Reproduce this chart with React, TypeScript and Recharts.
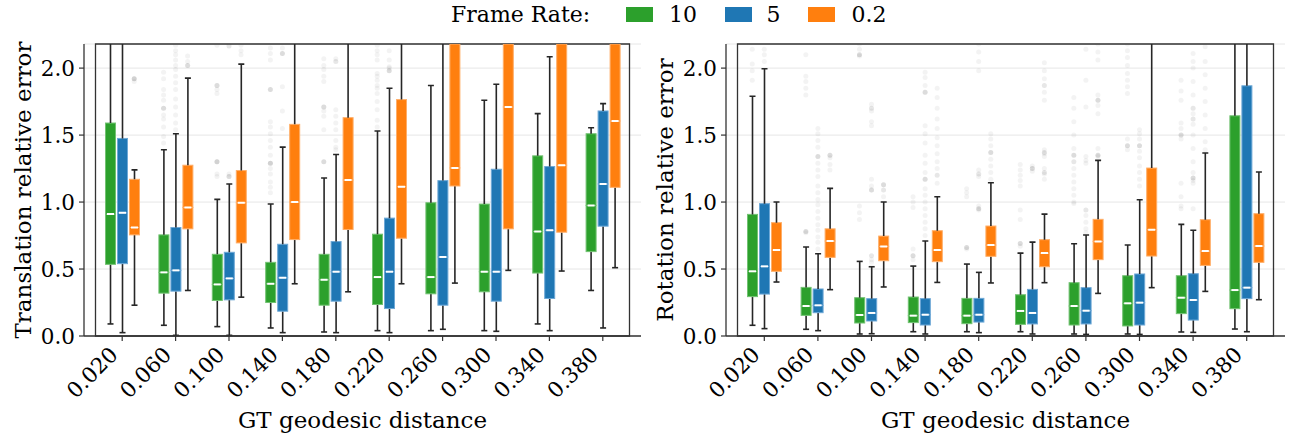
import React from "react";
import { ComposedChart, Bar, Scatter, XAxis, YAxis, CartesianGrid, ReferenceArea } from "recharts";

const categories = ["0.020", "0.060", "0.100", "0.140", "0.180", "0.220", "0.260", "0.300", "0.340", "0.380"];
const yTicks = [0, 0.5, 1.0, 1.5, 2.0];
const Y_MAX = 2.18;
const seriesLabels = ["10", "5", "0.2"];
const seriesColors = ["#2ca02c", "#1f77b4", "#ff7f0e"];
const seriesEdges = ["#72c272", "#6ea8d6", "#ffae68"];

// box stats: [lower whisker, Q1, median, Q3, upper whisker]
const trans10 = [
  [0.09, 0.535, 0.91, 1.59, 2.9],
  [0.08, 0.32, 0.475, 0.755, 1.39],
  [0.07, 0.265, 0.385, 0.61, 1.02],
  [0.06, 0.25, 0.39, 0.55, 0.985],
  [0.03, 0.23, 0.42, 0.61, 1.18],
  [0.04, 0.235, 0.44, 0.76, 1.53],
  [0.04, 0.315, 0.44, 0.995, 1.87],
  [0.04, 0.33, 0.48, 0.985, 1.76],
  [0.09, 0.47, 0.78, 1.345, 1.66],
  [0.34, 0.63, 0.975, 1.51, 1.555],
];
const trans5 = [
  [0.025, 0.54, 0.92, 1.475, 3.0],
  [0.005, 0.335, 0.49, 0.81, 1.51],
  [0.005, 0.27, 0.43, 0.625, 1.135],
  [0.025, 0.185, 0.435, 0.685, 1.41],
  [0.025, 0.26, 0.48, 0.705, 1.355],
  [0.025, 0.205, 0.48, 0.88, 1.85],
  [0.05, 0.23, 0.59, 1.16, 2.6],
  [0.035, 0.26, 0.48, 1.245, 1.88],
  [0.04, 0.28, 0.79, 1.265, 2.085],
  [0.06, 0.82, 1.135, 1.68, 1.735],
];
const trans02 = [
  [0.23, 0.755, 0.81, 1.17, 1.24],
  [0.34, 0.8, 0.96, 1.275, 1.925],
  [0.29, 0.695, 0.995, 1.235, 2.03],
  [0.39, 0.72, 1.0, 1.58, 2.5],
  [0.33, 0.795, 1.165, 1.63, 2.6],
  [0.39, 0.73, 1.115, 1.765, 2.7],
  [0.395, 1.12, 1.255, 2.5, 3.6],
  [0.49, 0.8, 1.71, 2.6, 3.8],
  [0.485, 0.775, 1.275, 2.4, 3.5],
  [0.51, 1.11, 1.605, 2.45, 3.6],
];

const rot10 = [
  [0.08, 0.294, 0.483, 0.908, 1.79],
  [0.05, 0.154, 0.224, 0.363, 0.664],
  [0.015, 0.097, 0.157, 0.286, 0.557],
  [0.032, 0.1, 0.152, 0.291, 0.522],
  [0.032, 0.092, 0.152, 0.281, 0.537],
  [0.032, 0.087, 0.187, 0.308, 0.619],
  [0.015, 0.082, 0.224, 0.398, 0.689],
  [0.015, 0.075, 0.244, 0.45, 0.679],
  [0.03, 0.167, 0.286, 0.45, 0.833],
  [0.052, 0.204, 0.343, 1.644, 3.0],
];
const rot5 = [
  [0.055, 0.313, 0.52, 0.988, 1.995],
  [0.04, 0.174, 0.229, 0.351, 0.614],
  [0.017, 0.112, 0.172, 0.279, 0.517],
  [0.015, 0.082, 0.159, 0.279, 0.709],
  [0.025, 0.104, 0.159, 0.281, 0.475],
  [0.015, 0.09, 0.172, 0.348, 0.701],
  [0.012, 0.09, 0.189, 0.361, 0.754],
  [0.012, 0.082, 0.249, 0.463, 1.017],
  [0.027, 0.119, 0.269, 0.465, 0.789],
  [0.032, 0.279, 0.361, 1.868, 3.2],
];
const rot02 = [
  [0.403, 0.483, 0.642, 0.846, 1.0],
  [0.346, 0.587, 0.709, 0.8, 1.102],
  [0.366, 0.562, 0.669, 0.746, 1.0],
  [0.4, 0.555, 0.642, 0.786, 1.04],
  [0.396, 0.595, 0.679, 0.821, 1.144],
  [0.398, 0.517, 0.619, 0.719, 0.91],
  [0.318, 0.57, 0.706, 0.871, 1.311],
  [0.361, 0.597, 0.794, 1.254, 2.6],
  [0.333, 0.527, 0.634, 0.868, 1.366],
  [0.271, 0.55, 0.672, 0.913, 1.224],
];

// outliers (fliers) per category
const transOut10 = [
  [],
  [1.44, 1.49, 1.56, 1.62, 1.65, 1.7, 1.7, 1.7, 1.76, 1.8, 1.84, 1.92, 1.97],
  [1.19, 1.21, 1.3, 1.3, 1.3, 1.3, 1.81, 1.84, 1.87, 1.87, 1.87, 2.17],
  [1.07, 1.11, 1.15, 1.21, 1.25, 1.29, 1.29, 1.29, 1.29, 1.35, 1.41, 1.46, 1.51, 1.56, 1.6, 1.84, 1.84, 1.84, 2.06, 2.11, 2.15],
  [1.3, 1.3, 1.3, 1.54, 1.64, 1.68, 1.71, 1.71, 1.71, 1.9, 1.94, 1.99, 2.02, 2.07],
  [1.56, 1.61, 1.69, 1.75, 1.81, 1.85, 1.87, 1.91, 1.94, 1.96, 2.06, 2.1, 2.13, 2.17],
  [], [], [], [],
];
const transOut5 = [
  [],
  [1.54, 1.59, 1.65, 1.71, 1.77, 1.84, 1.89, 1.94, 1.99, 2.02, 2.06, 2.1, 2.13, 2.17],
  [1.19, 1.19, 1.19, 1.21, 2.165, 2.165],
  [1.55, 1.68, 1.86, 2.11, 2.11, 2.11, 2.15],
  [1.39, 1.41, 1.46, 1.54, 1.59, 1.64, 1.69, 2.05, 2.05, 2.07],
  [1.98, 1.98, 1.98, 2.0, 2.01, 2.06, 2.13],
  [], [], [], [],
];
const transOut02 = [
  [1.9, 1.92, 1.92, 1.92, 1.92],
  [2.02, 2.02, 2.02, 2.05, 2.09],
  [2.1, 2.13, 2.17],
  [], [], [], [], [], [], [],
];
const rotOut10 = [
  [1.91, 1.98, 2.03, 2.14],
  [0.77, 0.78, 0.78, 0.78, 1.8, 1.85, 1.9, 1.94, 2.1],
  [0.87, 0.92, 0.97, 2.09, 2.1, 2.1, 2.1, 2.14, 2.18],
  [0.57, 0.6, 0.6, 0.6, 0.65, 0.96, 1.0, 1.04],
  [0.65, 0.66, 0.66, 0.66, 1.04, 1.07, 1.1],
  [0.67, 0.69, 0.69, 0.69, 0.87, 0.94, 1.12, 1.16, 1.2, 1.24, 1.28],
  [0.99, 1.0, 1.05, 1.1, 1.15, 1.2, 1.25, 1.3, 1.3, 1.35, 1.35, 1.35, 1.4, 1.5, 1.6, 1.7, 1.78],
  [1.39, 1.42, 1.42, 1.42, 1.47, 1.81, 1.86, 1.91, 1.96, 2.02, 2.08, 2.13, 2.18],
  [0.95, 0.97, 1.04, 1.14, 1.47, 1.5, 1.5, 1.5, 1.55, 1.59, 1.76, 1.83, 1.91],
  [],
];
const rotOut5 = [
  [2.05, 2.1, 2.14],
  [0.65, 0.7, 0.74, 0.79, 0.83, 0.88, 0.93, 0.98, 1.02, 1.07, 1.12, 1.19, 1.24, 1.29, 1.34, 1.34, 1.34, 1.41, 1.46, 1.51, 1.55],
  [0.55, 0.57, 0.6, 0.6, 1.09, 1.09, 1.09, 1.12, 1.17, 1.57, 1.6, 1.68, 1.7, 1.7, 1.73],
  [0.75, 0.8, 0.85, 0.9, 0.95, 1.0, 1.05, 1.1, 1.17, 1.17, 1.17, 1.22, 1.29, 1.35, 1.44, 1.51, 1.57, 1.82, 1.82, 1.82, 1.87, 1.93, 1.97],
  [0.94, 0.95, 0.95, 0.95, 0.97, 1.19, 1.21, 1.21, 1.24, 1.98, 2.05, 2.12, 2.18],
  [1.23, 1.25, 1.25, 1.25, 1.27],
  [0.77, 0.8, 0.85, 0.9, 0.94, 0.94, 1.29, 1.31, 1.34, 1.71, 1.91, 2.14],
  [1.12, 1.17, 1.22, 1.27, 1.33, 1.38, 1.42, 1.42, 1.42, 1.47, 1.51, 1.54],
  [0.95, 1.14, 1.16, 1.18, 1.18, 1.18, 1.22, 1.3, 1.4, 1.5, 1.58, 1.62, 1.62, 1.66, 1.7, 1.7, 1.8, 1.9, 2.0, 2.05, 2.11],
  [],
];
const rotOut02 = [
  [],
  [1.24, 1.28, 1.33, 1.35, 1.35, 1.35],
  [1.04, 1.09, 1.09, 1.13, 1.13, 1.13],
  [1.14, 1.2, 1.2, 1.25, 1.3, 1.36, 1.42, 1.48, 1.55, 1.62, 1.7, 1.78, 1.85],
  [1.17, 1.22, 1.27, 1.32, 1.37, 1.37, 1.37, 1.42, 1.47, 1.51],
  [1.17, 1.21, 1.22, 1.22, 1.25, 1.34, 1.36, 1.37, 1.37, 1.39, 1.76, 1.82, 1.87, 1.87, 1.92, 1.98, 2.04],
  [1.34, 1.35, 1.35, 1.35, 1.4, 1.66, 1.72, 1.76, 1.76, 1.76, 1.8, 2.06, 2.12, 2.18],
  [],
  [1.39, 1.45, 1.55, 1.65, 1.75, 1.85, 1.95, 2.05, 2.16],
  [],
];

const FONT = "DejaVu Serif";
const SPINE = "#333333";
const WHISKER = "#262626";
const BAR_SIZE = 10;
const BAR_GAP = 2;
const SERIES_OFFSET = [-0.225, 0, 0.225];
const KEYS = ["s0", "s1", "s2"];

function buildRows(stats: number[][][]) {
  return categories.map((cat, i) => {
    const row: any = { cat };
    stats.forEach((arr, s) => {
      const [lo, q1, med, q3, hi] = arr[i];
      const k = KEYS[s];
      row[k + "_base"] = lo;
      row[k + "_lw"] = q1 - lo;
      row[k + "_b1"] = med - q1;
      row[k + "_b2"] = q3 - med;
      row[k + "_uw"] = hi - q3;
      row[k + "_hi"] = hi;
    });
    return row;
  });
}

function buildOutliers(outs: number[][][]) {
  const pts: { x: number; y: number }[] = [];
  outs.forEach((lists, s) => {
    lists.forEach((vals, i) => {
      vals.forEach((v) => pts.push({ x: i + SERIES_OFFSET[s], y: v }));
    });
  });
  return pts;
}

const Empty = () => <g />;

const LowerWhisker = (p: any) => {
  const cx = p.x + p.width / 2;
  const yb = p.y + p.height;
  return (
    <g>
      <line x1={cx} x2={cx} y1={p.y} y2={yb} stroke={WHISKER} strokeWidth={1.6} />
      <line x1={cx - 3} x2={cx + 3} y1={yb} y2={yb} stroke={WHISKER} strokeWidth={1.6} />
    </g>
  );
};

const makeUpperWhisker = (k: string) => (p: any) => {
  const cx = p.x + p.width / 2;
  const hi = p.payload[k + "_hi"];
  return (
    <g>
      <line x1={cx} x2={cx} y1={p.y} y2={p.y + p.height} stroke={WHISKER} strokeWidth={1.6} />
      {hi <= Y_MAX ? <line x1={cx - 3} x2={cx + 3} y1={p.y} y2={p.y} stroke={WHISKER} strokeWidth={1.6} /> : null}
    </g>
  );
};

const makeBoxHalf = (s: number, median: boolean) => (p: any) => {
  return (
    <g>
      <rect x={p.x} y={p.y} width={p.width} height={Math.max(p.height, 0)} fill={seriesColors[s]} stroke={seriesEdges[s]} strokeWidth={1} />
      {median ? (
        <line x1={p.x + 1.5} x2={p.x + p.width - 1.5} y1={p.y + p.height} y2={p.y + p.height} stroke="#ffffff" strokeWidth={2} />
      ) : null}
    </g>
  );
};

const FlierDot = (p: any) => <circle cx={p.cx} cy={p.cy} r={2.5} fill="#555" fillOpacity={0.07} />;

const XTick = (props: any) => {
  const { x, y, payload } = props;
  const ax = x - 3;
  const ay = y + 13;
  return (
    <text x={ax} y={ay} transform={`rotate(-45 ${ax} ${ay})`} textAnchor="end" fontSize={21.5} fontFamily={FONT} fill="#000">
      {payload.value}
    </text>
  );
};

function Panel({ rows, outliers, width, margin }: any) {
  return (
    <ComposedChart width={width} height={438} data={rows} margin={margin} barGap={BAR_GAP}>
      <CartesianGrid vertical={false} stroke="#e6e6e6" strokeWidth={1} />
      <XAxis
        dataKey="cat"
        height={70}
        padding={{ left: 11.5, right: 11.5 }}
        tick={<XTick />}
        tickSize={5}
        interval={0}
        tickLine={{ stroke: SPINE, strokeWidth: 1.2 }}
        axisLine={{ stroke: SPINE, strokeWidth: 1.3 }}
      />
      <XAxis xAxisId="num" type="number" dataKey="x" domain={[-0.5, 9.5]} hide allowDataOverflow padding={{ left: 11.5, right: 11.5 }} />
      <YAxis
        type="number"
        domain={[0, Y_MAX]}
        allowDataOverflow
        ticks={yTicks}
        width={60}
        tickSize={5}
        tickMargin={4}
        tickFormatter={(v: number) => v.toFixed(1)}
        tick={{ fontSize: 21.5, fontFamily: FONT, fill: "#000" }}
        tickLine={{ stroke: SPINE, strokeWidth: 1.2 }}
        axisLine={{ stroke: SPINE, strokeWidth: 1.3 }}
      />
      <YAxis yAxisId="sy" type="number" dataKey="y" domain={[0, Y_MAX]} allowDataOverflow hide />
      <Scatter xAxisId="num" yAxisId="sy" data={outliers} shape={FlierDot} isAnimationActive={false} />
      {KEYS.map((k, s) => [
        <Bar key={k + "base"} dataKey={k + "_base"} stackId={k} barSize={BAR_SIZE} shape={Empty} isAnimationActive={false} />,
        <Bar key={k + "lw"} dataKey={k + "_lw"} stackId={k} barSize={BAR_SIZE} shape={LowerWhisker} isAnimationActive={false} />,
        <Bar key={k + "b1"} dataKey={k + "_b1"} stackId={k} barSize={BAR_SIZE} shape={makeBoxHalf(s, false)} isAnimationActive={false} />,
        <Bar key={k + "b2"} dataKey={k + "_b2"} stackId={k} barSize={BAR_SIZE} shape={makeBoxHalf(s, true)} isAnimationActive={false} />,
        <Bar key={k + "uw"} dataKey={k + "_uw"} stackId={k} barSize={BAR_SIZE} shape={makeUpperWhisker(k)} isAnimationActive={false} />,
      ])}
      <ReferenceArea
        y1={0}
        y2={Y_MAX}
        fill="none"
        fillOpacity={0}
        stroke={SPINE}
        strokeWidth={1.3}
        strokeOpacity={1}
        ifOverflow="visible"
      />
    </ComposedChart>
  );
}

const transRows = buildRows([trans10, trans5, trans02]);
const rotRows = buildRows([rot10, rot5, rot02]);
const transFliers = buildOutliers([transOut10, transOut5, transOut02]);
const rotFliers = buildOutliers([rotOut10, rotOut5, rotOut02]);

export default function App() {
  return (
    <div style={{ position: "absolute", left: 0, top: 0, width: 1293, height: 438, background: "#fff", overflow: "hidden" }}>
      <div style={{ position: "absolute", left: 0, top: 0 }}>
        <Panel rows={transRows} outliers={transFliers} width={646} margin={{ top: 44, right: 5, bottom: 32, left: 24 }} />
      </div>
      <div style={{ position: "absolute", left: 646, top: 0 }}>
        <Panel rows={rotRows} outliers={rotFliers} width={647} margin={{ top: 44, right: 8, bottom: 32, left: 20 }} />
      </div>
      <svg width={1293} height={438} style={{ position: "absolute", left: 0, top: 0, pointerEvents: "none" }} fontFamily={FONT}>
        <text x={31} y={190} transform="rotate(-90 31 190)" textAnchor="middle" fontSize={23} fill="#000">Translation relative error</text>
        <text x={673} y={190} transform="rotate(-90 673 190)" textAnchor="middle" fontSize={23} fill="#000">Rotation relative error</text>
        <text x={362.5} y={428} textAnchor="middle" fontSize={23} fill="#000">GT geodesic distance</text>
        <text x={1005.5} y={428} textAnchor="middle" fontSize={23} fill="#000">GT geodesic distance</text>
        <text x={451} y={22} fontSize={22} fill="#000">Frame Rate:</text>
        {seriesLabels.map((lab, i) => {
          const sx = [626, 725, 808][i];
          const tx = [669, 766.5, 851.6][i];
          return (
            <g key={lab}>
              <rect x={sx} y={7} width={27} height={15} fill={seriesColors[i]} />
              <text x={tx} y={22} fontSize={22} fill="#000">{lab}</text>
            </g>
          );
        })}
      </svg>
    </div>
  );
}
